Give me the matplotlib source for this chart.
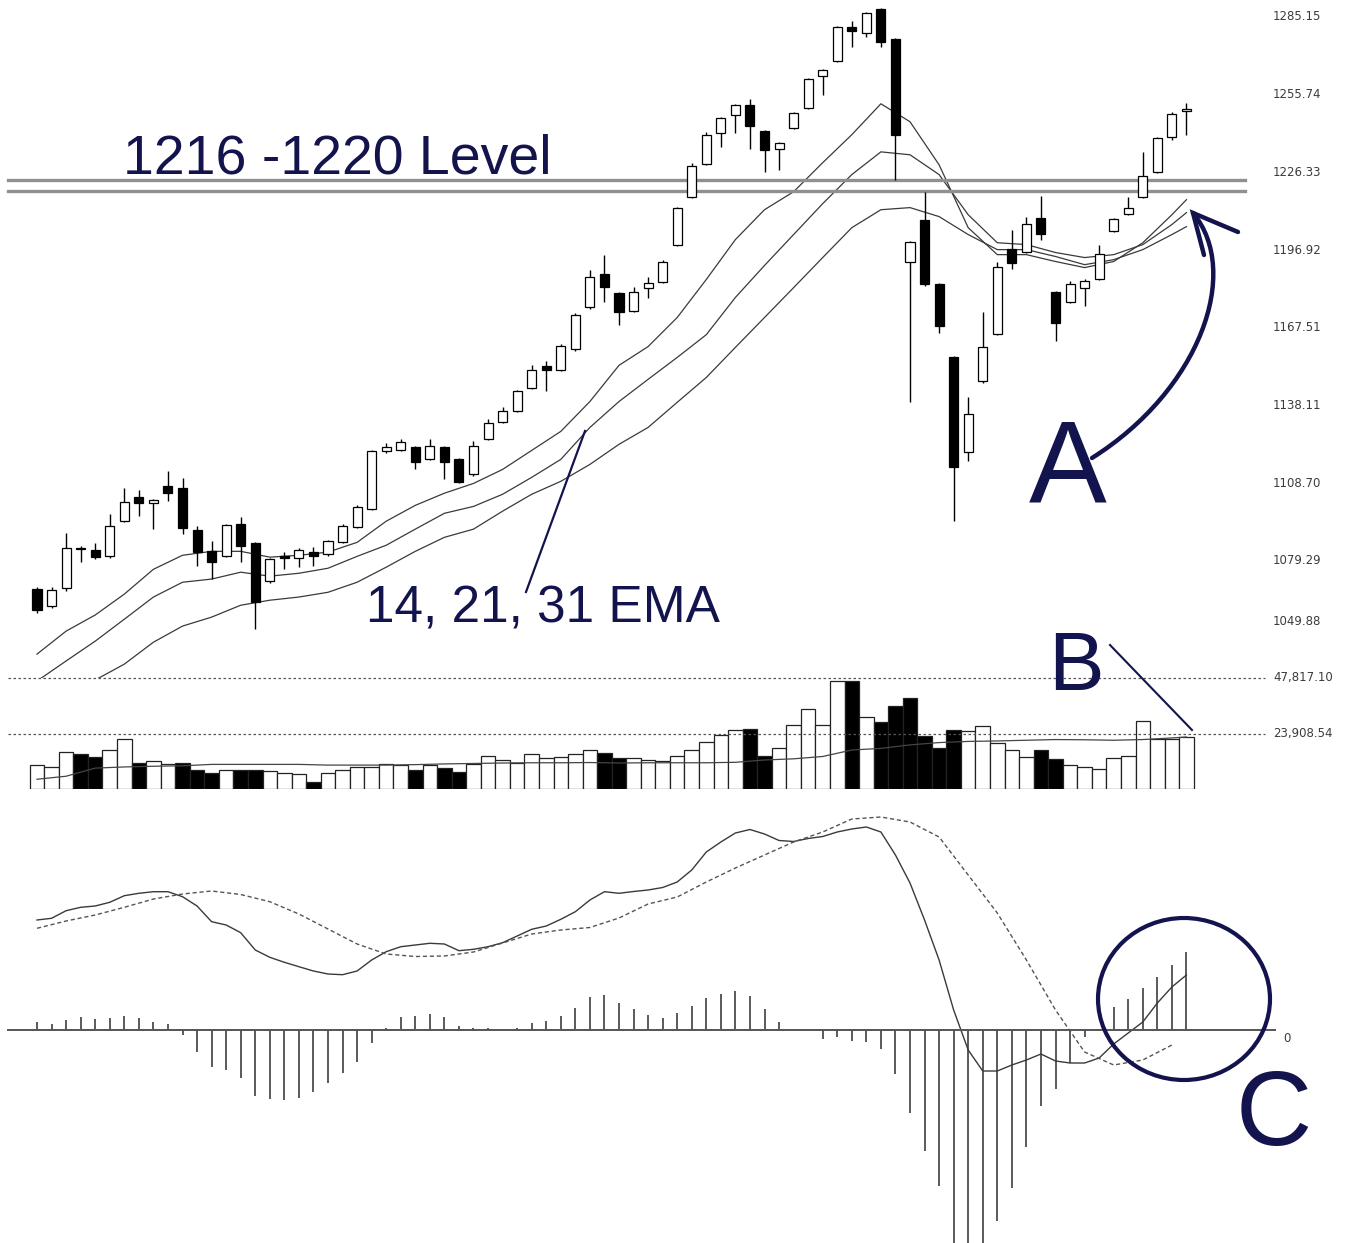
import numpy as np
import matplotlib
matplotlib.use('Agg')
import matplotlib.pyplot as plt
from matplotlib.patches import Ellipse, PathPatch
from matplotlib.path import Path
from matplotlib.transforms import ScaledTranslation, blended_transform_factory

# ---- dados ----
opens = [1068.6, 1062.2, 1068.9, 1084.2, 1083.3, 1081.0, 1094.3, 1103.4, 1101.1, 1107.5,
         1106.8, 1090.9, 1082.9, 1081.0, 1093.2, 1086.0, 1071.6, 1081.0, 1080.3, 1082.6,
         1081.8, 1086.3, 1092.0, 1098.8, 1120.7, 1121.1, 1122.3, 1117.7, 1122.3, 1117.7,
         1112.0, 1125.3, 1131.7, 1136.2, 1144.9, 1153.0, 1151.7, 1159.3, 1175.2, 1188.0,
         1180.5, 1173.7, 1182.7, 1185.0, 1199.0, 1217.1, 1229.6, 1241.3, 1248.1, 1251.9,
         1242.1, 1235.3, 1243.2, 1250.8, 1262.9, 1268.5, 1281.4, 1279.1, 1288.2, 1276.9,
         1192.6, 1208.4, 1184.2, 1156.3, 1120.4, 1147.2, 1165.0, 1197.5, 1196.3, 1209.2,
         1181.2, 1177.4, 1182.7, 1186.1, 1204.3, 1210.7, 1217.1, 1226.6, 1239.8, 1249.6]
highs = [1069.3, 1069.3, 1089.7, 1084.8, 1086.0, 1096.9, 1106.8, 1106.0, 1102.6, 1113.2,
         1110.5, 1092.4, 1086.7, 1093.2, 1095.8, 1086.4, 1080.5, 1082.6, 1084.1, 1084.5,
         1087.2, 1093.2, 1100.4, 1121.2, 1123.8, 1125.3, 1122.8, 1125.3, 1122.8, 1118.2,
         1124.5, 1132.8, 1137.4, 1143.8, 1153.6, 1155.1, 1161.2, 1173.0, 1189.5, 1195.2,
         1180.9, 1183.1, 1186.9, 1193.0, 1213.4, 1230.0, 1241.7, 1247.4, 1252.3, 1254.2,
         1242.5, 1238.0, 1249.3, 1262.1, 1265.5, 1281.8, 1283.7, 1287.1, 1288.6, 1277.3,
         1200.5, 1219.0, 1184.6, 1156.7, 1141.5, 1173.3, 1192.6, 1204.7, 1209.6, 1217.5,
         1181.6, 1185.4, 1185.8, 1199.0, 1209.2, 1217.1, 1234.1, 1239.8, 1249.3, 1252.7]
lows = [1059.5, 1061.4, 1068.0, 1078.8, 1079.9, 1080.5, 1094.0, 1096.2, 1091.3, 1101.8,
        1089.4, 1077.3, 1072.4, 1080.6, 1078.8, 1053.5, 1071.0, 1076.1, 1076.9, 1077.3,
        1081.3, 1086.0, 1091.6, 1098.4, 1120.3, 1120.7, 1113.9, 1117.3, 1110.2, 1108.6,
        1111.6, 1124.9, 1131.3, 1135.8, 1144.5, 1143.4, 1151.3, 1158.9, 1174.8, 1177.1,
        1168.4, 1173.3, 1178.9, 1184.6, 1198.6, 1216.7, 1229.2, 1236.0, 1241.3, 1235.3,
        1226.6, 1227.3, 1242.8, 1250.4, 1255.7, 1268.1, 1273.8, 1277.6, 1273.8, 1223.6,
        1139.6, 1183.5, 1165.7, 1094.3, 1117.0, 1146.8, 1164.6, 1189.9, 1195.9, 1200.9,
        1162.7, 1177.0, 1175.9, 1185.7, 1203.9, 1210.3, 1216.7, 1226.2, 1238.7, 1240.6]
closes = [1060.6, 1068.2, 1084.1, 1083.8, 1080.7, 1092.4, 1101.5, 1101.2, 1102.2, 1104.9,
          1091.6, 1082.6, 1078.8, 1092.8, 1084.8, 1063.7, 1079.9, 1080.2, 1083.3, 1081.0,
          1086.7, 1092.4, 1099.6, 1120.7, 1122.3, 1124.1, 1116.6, 1122.6, 1116.6, 1109.0,
          1122.6, 1131.3, 1135.9, 1143.4, 1151.4, 1151.6, 1160.8, 1172.5, 1186.9, 1183.1,
          1173.3, 1180.9, 1184.6, 1192.6, 1213.0, 1228.9, 1240.6, 1247.0, 1251.9, 1244.0,
          1234.9, 1237.5, 1248.9, 1261.7, 1265.1, 1281.4, 1279.9, 1286.7, 1275.7, 1240.6,
          1200.1, 1183.9, 1168.0, 1114.7, 1134.7, 1160.1, 1190.7, 1192.2, 1206.9, 1203.2,
          1169.5, 1183.9, 1185.4, 1195.6, 1208.8, 1213.0, 1225.1, 1239.4, 1248.5, 1250.4]

volumes = [10200, 9500, 15800, 15100, 14000, 16900, 21400, 11200, 12000, 10600,
           11200, 8400, 6700, 8100, 8100, 8100, 7800, 7000, 6400, 3200,
           6700, 8100, 9500, 9500, 10900, 10500, 8100, 10200, 9100, 7400,
           10900, 14100, 12600, 11200, 15100, 13400, 13700, 15100, 16900, 15600,
           13400, 13400, 12700, 12000, 14400, 16800, 20400, 23100, 25600, 25900,
           14400, 17600, 27400, 34400, 27700, 46600, 46600, 31200, 28700, 35800,
           39100, 22800, 17500, 25600, 24900, 27000, 20000, 16800, 13700, 16800,
           13000, 10500, 9500, 8800, 13400, 14400, 29100, 21400, 21400, 22400]

# medias (lidas a cada 2 candles)
ema_idx = list(range(0, 80, 2)) + [79]
ema14 = [1044.0, 1052.7, 1058.8, 1066.7, 1076.1, 1081.4, 1082.9, 1082.9, 1080.7, 1081.4,
         1082.6, 1086.3, 1094.3, 1100.3, 1104.9, 1108.6, 1113.9, 1121.1, 1128.3, 1139.6,
         1153.3, 1160.4, 1171.4, 1185.8, 1200.9, 1212.2, 1219.0, 1230.0, 1240.6, 1252.3,
         1245.5, 1229.2, 1205.4, 1195.2, 1195.2, 1192.6, 1190.3, 1192.6, 1199.7, 1210.3, 1216.0]
ema21 = [1033.8, 1041.4, 1048.9, 1057.2, 1065.6, 1071.2, 1072.4, 1075.0, 1073.5, 1074.6,
         1076.5, 1081.0, 1085.2, 1091.3, 1097.3, 1099.9, 1104.5, 1110.9, 1117.7, 1129.8,
         1139.6, 1148.0, 1156.3, 1164.9, 1179.0, 1191.1, 1202.8, 1214.5, 1225.5, 1234.1,
         1233.0, 1225.5, 1210.3, 1199.7, 1199.0, 1196.0, 1194.1, 1195.2, 1199.0, 1206.6, 1211.1]
ema31 = [1019.4, 1027.0, 1034.2, 1040.2, 1048.5, 1054.6, 1058.0, 1062.5, 1064.4, 1065.6,
         1067.4, 1071.2, 1076.9, 1082.9, 1088.2, 1091.3, 1098.1, 1104.5, 1109.4, 1115.8,
         1123.4, 1129.8, 1139.3, 1148.7, 1160.1, 1171.4, 1182.7, 1194.1, 1205.4, 1212.2,
         1213.0, 1209.6, 1202.8, 1197.1, 1197.1, 1194.5, 1191.4, 1193.3, 1197.1, 1202.8, 1205.8]
vol_ma = [4200, 5500, 9000, 9500, 9800, 10000, 10600, 10600, 10600, 10600,
          10300, 10300, 10300, 10500, 10800, 11000, 11200, 11300, 11300, 11400,
          11200, 11300, 11300, 11300, 11500, 12500, 13000, 14000, 16800, 17500,
          19000, 20000, 20500, 20700, 21000, 21300, 21200, 21000, 21300, 22000, 22400]

# MACD (unidades arbitrarias do painel)
macd = [110, 111.7, 119.3, 122.7, 124, 127.7, 134.3, 136.7, 138.3, 138.3,
        133.3, 124, 108.3, 105, 97.3, 80, 72.7, 67.7, 63.3, 59,
        56, 55.3, 59, 70, 78.3, 83.3, 85, 86.7, 86, 79.3,
        80.7, 83.3, 87.3, 94, 100.7, 104, 110.7, 118.3, 130, 138.3,
        136.7, 138.5, 140, 142.5, 148, 160, 178, 188, 197, 200.5,
        196, 189.5, 188.5, 191.5, 193.5, 198, 201, 203, 198, 175,
        147, 110, 70, 20, -20, -41, -41, -35, -30, -24,
        -31, -33, -33, -28, -14, -3, 8, 27, 43, 55]
sig_idx = list(range(0, 80, 2))
signal = [101.7, 109, 115, 122.7, 131, 136, 139, 135.5, 128.3, 116,
          101, 86, 76, 73.5, 74, 78, 87, 96, 100, 102.5,
          112, 126, 133, 148, 162, 175, 188, 198, 211, 213,
          208, 193, 155, 117, 70, 20, -22, -35, -30, -15]
hist = [7.7, 5.7, 10, 13.3, 11, 11.7, 14.3, 11.7, 7.7, 5.7,
        -5, -22.3, -36.7, -40, -47.7, -66, -69, -70, -67.7, -62.3,
        -53.3, -43.3, -32.3, -13.3, 2.3, 12.7, 14, 15.7, 13.3, 4,
        1.7, 2.3, 0, 2.3, 7.3, 9.3, 14.3, 22.3, 33.3, 35,
        27.3, 21, 15, 11.7, 17.3, 24.3, 32.3, 36, 39, 34,
        21, 7.7, 0.5, -0.7, -9, -7.3, -10.7, -12.3, -19.3, -44,
        -83.3, -120.7, -156, -230, -240, -235, -191, -158.3, -116.7, -76,
        -59.3, -33, -6.7, 1, 22.7, 30.7, 41.7, 53.3, 65, 77.7]

levels = [1223.4, 1219.4]
price_ticks = [1285.15, 1255.74, 1226.33, 1196.92, 1167.51, 1138.11, 1108.70, 1079.29, 1049.88]
vol_ticks = [23908.54, 47817.10]

# ---- layout em pixels ----
W, H = 1348, 1243
NAVY = '#13134d'
FONTE = ['Liberation Sans', 'DejaVu Sans']

fig = plt.figure(figsize=(W / 100, H / 100), dpi=100)


def px_rect(x0, y0, x1, y1):
    return [x0 / W, 1 - y1 / H, (x1 - x0) / W, (y1 - y0) / H]


ax = fig.add_axes(px_rect(0, 0, 1250, 678))
axv = fig.add_axes(px_rect(0, 678, 1250, 789))
axm = fig.add_axes(px_rect(0, 795, 1250, 1243))

idx = np.arange(len(closes))
o, h, l, c = map(np.array, (opens, highs, lows, closes))
xlim = (-37 / 14.55, (1250 - 37) / 14.55)

for a in (ax, axv, axm):
    a.set_xlim(*xlim)
    a.set_xticks([])
    a.set_yticks([])
    for s in a.spines.values():
        s.set_visible(False)
    a.patch.set_alpha(0)

# candles
up_candle = c >= o
ax.vlines(idx, l, h, color='black', lw=1, zorder=2)
ax.bar(idx, np.maximum(np.abs(c - o), 0.4), bottom=np.minimum(o, c), width=0.62,
       color=np.where(up_candle, 'white', 'black'), edgecolor='black', lw=0.9, zorder=3)

# medias moveis
for serie in (ema14, ema21, ema31):
    ax.plot(ema_idx, serie, color='#3a3a3a', lw=0.9, zorder=1)

for lv in levels:
    ax.axhline(lv, xmin=8 / 1250, xmax=1245 / 1250, color='#909090', lw=2.4, zorder=1)

ax.set_ylim(1291.58 - 678 * 0.3785, 1291.58)

trans = blended_transform_factory(ax.transAxes, ax.transData)
for v in price_ticks:
    tr = trans
    if v == price_ticks[-1]:
        tr = trans + ScaledTranslation(0, 17 / 100, fig.dpi_scale_trans)
    ax.text(1273 / 1250, v, f'{v:.2f}', transform=tr, va='center', ha='left',
            fontsize=8.5, color='#3c3c3c', clip_on=False)

# volume
vol_up = np.concatenate([[True], np.diff(c) >= 0])
axv.bar(idx, volumes, width=1.0, color=np.where(vol_up, 'white', 'black'),
        edgecolor='#222222', lw=0.9)
axv.plot(ema_idx, vol_ma, color='#444444', lw=0.9)
axv.set_ylim(0, 47817.10)
tv = blended_transform_factory(axv.transAxes, axv.transData)
for v in vol_ticks:
    axv.axhline(v, xmin=8 / 1250, xmax=1265 / 1250, color='#555555', lw=0.9,
                linestyle=(0, (2, 2)), clip_on=False)
    axv.text(1273 / 1250, v, f'{v:,.2f}', transform=tv, va='center', ha='left',
             fontsize=8.5, color='#3c3c3c', clip_on=False)

# MACD
axm.vlines(idx, 0, hist, color='#5a5a5a', lw=1.4)
axm.plot(idx, macd, color='#3a3a3a', lw=1.0)
axm.plot(sig_idx, signal, color='#555555', lw=1.0, linestyle=(0, (3, 2)))
axm.axhline(0, xmin=8 / 1250, xmax=1275 / 1250, color='#555555', lw=1.4, clip_on=False)
axm.set_ylim(-213, 235)
tm = blended_transform_factory(axm.transAxes, axm.transData)
axm.text(1283 / 1250, 0, '0', transform=tm + ScaledTranslation(0, -8 / 100, fig.dpi_scale_trans),
         va='center', ha='left', fontsize=8.5, color='#3c3c3c', clip_on=False)

# ---- anotacoes (coordenadas em pixels da figura) ----
ov = fig.add_axes([0, 0, 1, 1], zorder=10)
ov.set_xlim(0, W)
ov.set_ylim(H, 0)
ov.axis('off')
ov.patch.set_alpha(0)

ov.text(123, 173, '1216 -1220 Level', family=FONTE, fontsize=40, color=NAVY, va='baseline')
ov.text(366, 622, '14, 21, 31 EMA', family=FONTE, fontsize=37, color=NAVY, va='baseline')
ov.plot([526, 585], [592, 431], color=NAVY, lw=1.6)

ov.text(1029, 502, 'A', family=FONTE, fontsize=84, color=NAVY, va='baseline')
arc = Path([(1092, 458), (1200, 390), (1242, 272), (1193, 213)],
           [Path.MOVETO, Path.CURVE4, Path.CURVE4, Path.CURVE4])
ov.add_patch(PathPatch(arc, facecolor='none', edgecolor=NAVY, lw=3.2, capstyle='round'))
ov.plot([1238, 1193, 1204], [232, 213, 255], color=NAVY, lw=3.2, solid_capstyle='round',
        solid_joinstyle='miter')

ov.text(1048, 690, 'B', family=FONTE, fontsize=60, color=NAVY, va='baseline')
ov.plot([1110, 1192], [645, 730], color=NAVY, lw=1.5)

ov.add_patch(Ellipse((1184, 999), 172, 162, facecolor='none', edgecolor=NAVY, lw=3))
ov.text(1236, 1145, 'C', family=FONTE, fontsize=76, color=NAVY, va='baseline')

fig.savefig('out.png', dpi=100)
